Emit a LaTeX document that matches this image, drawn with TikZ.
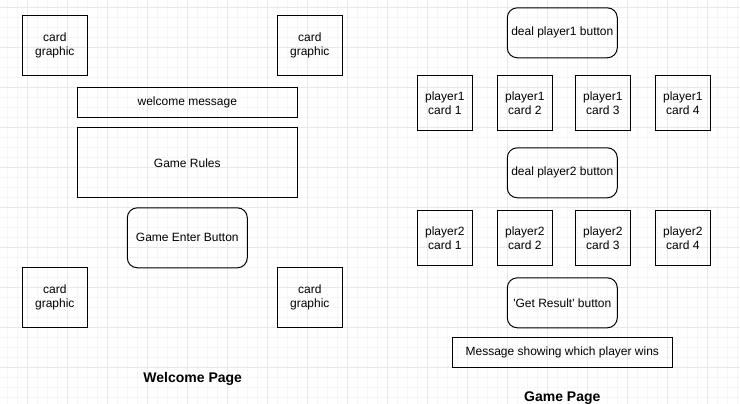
\documentclass[tikz,border=0pt]{standalone}
\usepackage{fontspec}
\setmainfont{Liberation Sans}
\begin{document}
\begin{tikzpicture}[x=1pt, y=-1pt,
  box/.style={draw, line width=1pt, align=center, inner sep=0pt, font=\fontsize{12}{14}\selectfont},
  card/.style={box, minimum width=#1, minimum height=#1},
  btn/.style={box, rounded corners=10pt},
  title/.style={font=\fontsize{14}{16}\selectfont\bfseries}]
\definecolor{minorcol}{HTML}{F6F6F6}
\definecolor{majorcol}{HTML}{E8E8E8}
\useasboundingbox (0,0) rectangle (740,404);
\fill[white] (0,0) rectangle (740,404);
\foreach \gx in {7,17,...,737} \draw[minorcol, line width=0.8pt] (\gx,0) -- (\gx,404);
\foreach \gy in {7,17,...,397} \draw[minorcol, line width=0.8pt] (0,\gy) -- (740,\gy);
\foreach \gx in {27,67,...,707} \draw[majorcol, line width=0.8pt] (\gx,0) -- (\gx,404);
\foreach \gy in {7,47,...,367} \draw[majorcol, line width=0.8pt] (0,\gy) -- (740,\gy);
% welcome page
\node[box, minimum width=65, minimum height=60] (cardTL) at (54.8,45.8) {card\\graphic};
\node[box, minimum width=65, minimum height=60] (cardTR) at (309.8,45.8) {card\\graphic};
\node[box, minimum width=220, minimum height=30] (welcome) at (187.3,102.8) {welcome message};
\node[box, minimum width=220, minimum height=70] (rules) at (187.3,162.8) {Game Rules};
\node[btn, minimum width=120, minimum height=60] (enter) at (187.3,237.8) {Game Enter Button};
\node[box, minimum width=65, minimum height=60] (cardBL) at (54.8,297.8) {card\\graphic};
\node[box, minimum width=65, minimum height=60] (cardBR) at (309.8,297.8) {card\\graphic};
\node[title] (welcomePage) at (192.7,379.3) {Welcome Page};
% game page
\node[btn, minimum width=110, minimum height=50] (deal1) at (562.3,32.8) {deal player1 button};
\node[card=55] (p1c1) at (444.8,103.3) {player1\\card 1};
\node[card=55] (p1c2) at (524.8,103.3) {player1\\card 2};
\node[card=55] (p1c3) at (602.8,103.3) {player1\\card 3};
\node[card=55] (p1c4) at (682.8,103.3) {player1\\card 4};
\node[btn, minimum width=110, minimum height=50] (deal2) at (562.3,172.8) {deal player2 button};
\node[card=55] (p2c1) at (444.8,238.3) {player2\\card 1};
\node[card=55] (p2c2) at (524.8,238.3) {player2\\card 2};
\node[card=55] (p2c3) at (602.8,238.3) {player2\\card 3};
\node[card=55] (p2c4) at (682.8,238.3) {player2\\card 4};
\node[btn, minimum width=110, minimum height=50] (result) at (562.3,302.8) {\textquotesingle Get Result\textquotesingle{} button};
\node[box, minimum width=220, minimum height=30] (winner) at (562.3,352.8) {Message showing which player wins};
\node[title] (gamePage) at (562.3,398.3) {Game Page};
\end{tikzpicture}
\end{document}
